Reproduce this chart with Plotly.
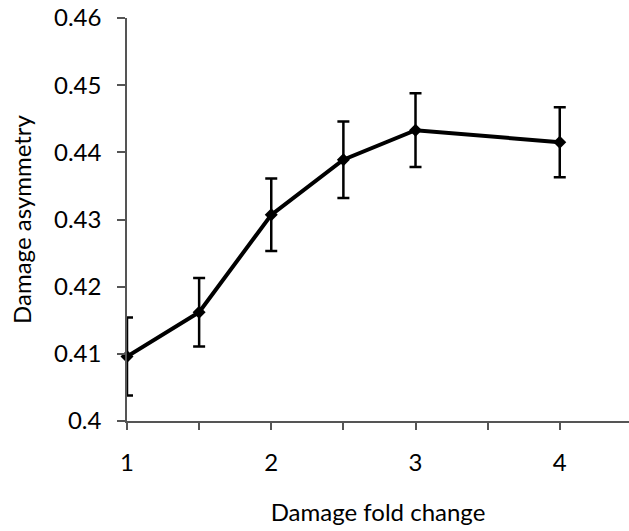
import plotly.graph_objects as go

fold_change = [1, 1.5, 2, 2.5, 3, 4]
asymmetry = [0.4096, 0.4162, 0.4307, 0.4389, 0.4433, 0.4415]
error = [0.0058, 0.0051, 0.0054, 0.0057, 0.0055, 0.0052]

x_ticks = [1, 1.5, 2, 2.5, 3, 3.5, 4, 4.5]
x_labels = ["1", "", "2", "", "3", "", "4", ""]
y_ticks = [0.4, 0.41, 0.42, 0.43, 0.44, 0.45, 0.46]
y_labels = ["0.4", "0.41", "0.42", "0.43", "0.44", "0.45", "0.46"]

font = "Lato, Open Sans, sans-serif"

fig = go.Figure()
fig.add_trace(go.Scatter(
    x=fold_change, y=asymmetry, mode="lines+markers",
    line=dict(color="black", width=4),
    marker=dict(symbol="diamond", size=10, color="black"),
    error_y=dict(type="data", array=error, visible=True, color="black", thickness=2.5, width=6),
    cliponaxis=False, showlegend=False,
))

fig.update_layout(
    width=629, height=531,
    margin=dict(l=127, r=0, t=18, b=110),
    paper_bgcolor="white", plot_bgcolor="white",
    font=dict(family=font, size=24, color="black"),
    xaxis=dict(
        range=[1, 4.48], tickmode="array", tickvals=x_ticks, ticktext=x_labels,
        ticks="outside", ticklen=7, tickwidth=1.5, tickcolor="#555",
        showline=True, linecolor="#555", linewidth=1.5, showgrid=False, zeroline=False,
        ticklabelstandoff=12,
        title=dict(text="Damage fold change", standoff=30, font=dict(size=24)),
    ),
    yaxis=dict(
        range=[0.4, 0.46], tickmode="array", tickvals=y_ticks, ticktext=y_labels,
        ticks="outside", ticklen=8, tickwidth=1.5, tickcolor="#555",
        showline=True, linecolor="#555", linewidth=1.5, showgrid=False, zeroline=False,
        ticklabelstandoff=11,
        title=dict(text="Damage asymmetry", standoff=16, font=dict(size=24)),
    ),
)

fig.write_html("out.html")
